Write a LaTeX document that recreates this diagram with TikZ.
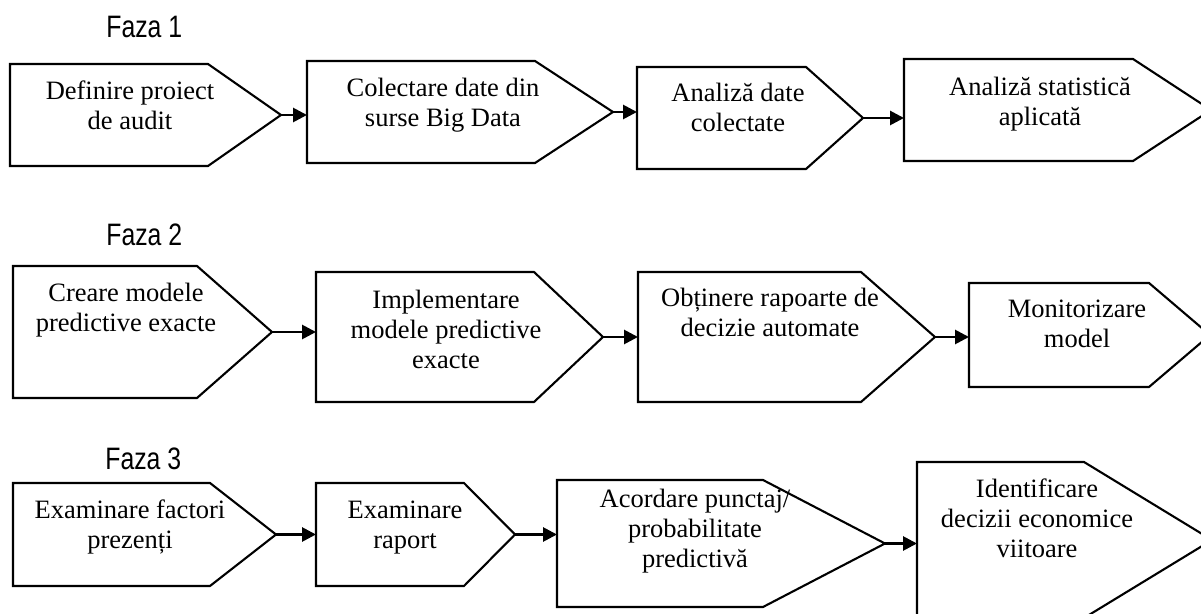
\documentclass[tikz,border=0pt]{standalone}
\usepackage{fontspec}
\setmainfont{Liberation Serif}
\newfontfamily\fazafont[FakeStretch=0.8]{Liberation Sans}
\usetikzlibrary{arrows.meta}

% pentagon outline drawn over a (blank) frame node: #1 node, #2 slant length in px
\newcommand\pentshape[2]{%
  \draw[boxline] (#1.north west) -- ([xshift=-#2*0.5pt]#1.north east) -- (#1.east)
    -- ([xshift=-#2*0.5pt]#1.south east) -- (#1.south west) -- cycle;}

\begin{document}
\begin{tikzpicture}[x=0.5pt, y=-0.5pt,
  frame/.style 2 args={draw=none, inner sep=0pt, outer sep=0pt, anchor=north west,
    minimum width=#1*0.5pt, minimum height=#2*0.5pt},
  boxline/.style={draw=black, line width=1.05pt, line join=miter},
  % text nodes are placed by the baseline of their last line
  txt/.style={font=\fontsize{13.25}{15}\selectfont, align=center, anchor=base, inner sep=0pt},
  faza/.style={font=\fazafont\fontsize{15.5}{17}\selectfont, anchor=base west, inner sep=0pt},
  arr/.style={line width=1.4pt, -{Triangle[length=7pt,width=7pt]}}
]
\useasboundingbox (0,0) rectangle (1201,614);
\fill[white] (0,0) rectangle (1201,614);
\clip (0,0) rectangle (1201,614);

% ---------- Faza 1 ----------
\node[faza] (f1) at (106,38) {Faza 1};
\node[frame={271}{102}] (b1) at (10,64) {};
\node[frame={306}{102}] (b2) at (307,61) {};
\node[frame={226}{102}] (b3) at (637,67) {};
\node[frame={307}{102}] (b4) at (904,59) {};
\pentshape{b1}{73}
\pentshape{b2}{78}
\pentshape{b3}{57}
\pentshape{b4}{78}
\node[txt] (t1) at (130,130) {Definire proiect\\de audit};
\node[txt] (t2) at (443,127) {Colectare date din\\surse Big Data};
\node[txt] (t3) at (738,132) {Analiză date\\colectate};
\node[txt] (t4) at (1040,126) {Analiză statistică\\aplicată};
\draw[arr] (b1.east) -- (b1.east -| b2.west);
\draw[arr] (b2.east) -- (b2.east -| b3.west);
\draw[arr] (b3.east) -- (b3.east -| b4.west);

% ---------- Faza 2 ----------
\node[faza] (f2) at (106,246) {Faza 2};
\node[frame={259}{132}] (b5) at (13,266) {};
\node[frame={287}{130}] (b6) at (316,272) {};
\node[frame={297}{130}] (b7) at (638,272) {};
\node[frame={241}{104}] (b8) at (969,283) {};
\pentshape{b5}{75}
\pentshape{b6}{69}
\pentshape{b7}{74}
\pentshape{b8}{61}
\node[txt] (t5) at (126,332) {Creare modele\\predictive exacte};
\node[txt] (t6) at (446,369) {Implementare\\modele predictive\\exacte};
\node[txt] (t7) at (770,337) {Obținere rapoarte de\\decizie automate};
\node[txt] (t8) at (1077,348) {Monitorizare\\model};
\draw[arr] (b5.east) -- (b5.east -| b6.west);
\draw[arr] (b6.east) -- (b6.east -| b7.west);
\draw[arr] (b7.east) -- (b7.east -| b8.west);

% ---------- Faza 3 ----------
\node[faza] (f3) at (105,470) {Faza 3};
\node[frame={263}{103}] (b9) at (13,483) {};
\node[frame={199}{103}] (b10) at (316,483) {};
\node[frame={328}{127}] (b11) at (557,480) {};
\node[frame={295}{156}] (b12) at (917,462) {};
\pentshape{b9}{66}
\pentshape{b10}{51}
\pentshape{b11}{122}
\pentshape{b12}{128}
\node[txt] (t9) at (130,549) {Examinare factori\\prezenți};
\node[txt] (t10) at (405,549) {Examinare\\raport};
\node[txt] (t11) at (695,568) {Acordare punctaj/\\probabilitate\\predictivă};
\node[txt] (t12) at (1037,558) {Identificare\\decizii economice\\viitoare};
\draw[arr] (b9.east) -- (b9.east -| b10.west);
\draw[arr] (b10.east) -- (b10.east -| b11.west);
\draw[arr] (b11.east) -- (b11.east -| b12.west);
\end{tikzpicture}
\end{document}
